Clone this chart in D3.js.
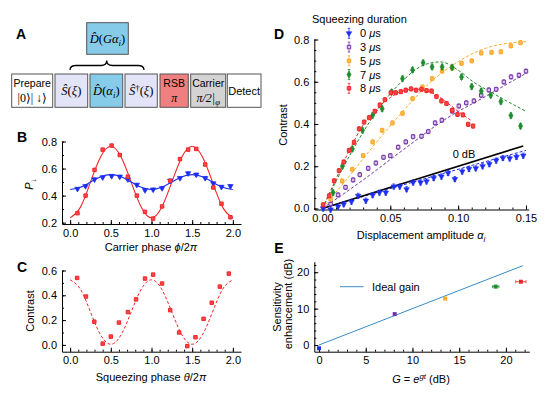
<!DOCTYPE html>
<html>
<head>
<meta charset="utf-8">
<script src="https://cdn.jsdelivr.net/npm/d3@7"></script>
<style>
  body { margin: 0; background: #fff; }
</style>
</head>
<body>
<script>
// ---- data ----
// B: carrier phase scan
var phiB = [0.09, 0.19, 0.30, 0.40, 0.51, 0.61, 0.71, 0.82, 0.92, 1.02, 1.13, 1.23, 1.35, 1.45, 1.55, 1.66, 1.76, 1.86, 1.97];
var redB = [0.27, 0.40, 0.59, 0.74, 0.77, 0.70, 0.54, 0.40, 0.28, 0.23, 0.32, 0.51, 0.67, 0.74, 0.745, 0.63, 0.46, 0.34, 0.24];
var blueB = [0.45, 0.47, 0.52, 0.535, 0.545, 0.54, 0.52, 0.48, 0.44, 0.445, 0.455, 0.51, 0.53, 0.565, 0.555, 0.53, 0.49, 0.465, 0.47];
var fitPhiB = [0, 0.125, 0.25, 0.375, 0.5, 0.625, 0.75, 0.875, 1, 1.125, 1.25, 1.375, 1.5, 1.625, 1.75, 1.875, 2];
var redFitB = [0.235, 0.313, 0.5, 0.687, 0.765, 0.687, 0.5, 0.313, 0.235, 0.313, 0.5, 0.687, 0.765, 0.687, 0.5, 0.313, 0.235];
var blueFitB = [0.445, 0.461, 0.5, 0.539, 0.555, 0.539, 0.5, 0.461, 0.445, 0.461, 0.5, 0.539, 0.555, 0.539, 0.5, 0.461, 0.445];

// C: squeezing phase scan
var thetaC = [0.086, 0.195, 0.297, 0.40, 0.50, 0.60, 0.71, 0.81, 0.92, 1.02, 1.13, 1.23, 1.34, 1.44, 1.54, 1.64, 1.74, 1.84, 1.95];
var contrastC = [0.54, 0.39, 0.187, 0.01, 0.067, 0.18, 0.265, 0.367, 0.535, 0.567, 0.495, 0.28, 0.10, -0.01, 0.062, 0.21, 0.34, 0.47, 0.575];
var fitThetaC = [0, 0.125, 0.25, 0.375, 0.5, 0.625, 0.75, 0.875, 1, 1.125, 1.25, 1.375, 1.5, 1.625, 1.75, 1.875, 2];
var fitC = [0.525, 0.45, 0.265, 0.08, 0.005, 0.08, 0.265, 0.45, 0.525, 0.45, 0.265, 0.08, 0.005, 0.08, 0.265, 0.45, 0.525];

// D: contrast vs displacement amplitude, [alpha, contrast]
var d0us = [[0.0005,0.0],[0.006,-0.005],[0.0115,0.009],[0.0157,0.02],[0.0214,0.032],[0.0263,0.06],[0.032,0.037],[0.037,0.063],[0.042,0.075],[0.0467,0.075],
  [0.0526,0.104],[0.057,0.104],[0.062,0.091],[0.0668,0.123],[0.0723,0.123],[0.0767,0.128],[0.082,0.144],[0.0877,0.151],[0.0926,0.168],[0.0976,0.139],
  [0.103,0.175],[0.108,0.187],[0.113,0.19],[0.118,0.2],[0.123,0.21],[0.128,0.227],[0.133,0.239],[0.138,0.237],[0.143,0.244],[0.148,0.25]];
var d3us = [[0.006,0.021],[0.0115,0.064],[0.017,0.10],[0.0226,0.135],[0.0275,0.16],[0.0337,0.19],[0.0394,0.215],[0.045,0.242],[0.050,0.25],[0.0558,0.29],
  [0.0614,0.315],[0.0668,0.34],[0.073,0.342],[0.078,0.364],[0.083,0.405],[0.088,0.418],[0.0956,0.461],[0.1005,0.485],[0.106,0.50],[0.1116,0.509],
  [0.117,0.536],[0.1226,0.561],[0.128,0.564],[0.1337,0.599],[0.139,0.623],[0.1448,0.631],[0.150,0.65]];
var d5us = [[0.006,0.045],[0.0145,0.13],[0.022,0.185],[0.03,0.25],[0.037,0.315],[0.044,0.37],[0.0516,0.405],[0.059,0.45],[0.0664,0.52],[0.0737,0.575],
  [0.0808,0.615],[0.0882,0.65],[0.0956,0.665],[0.1025,0.687],[0.11,0.699],[0.117,0.736],[0.1246,0.739],[0.1315,0.742],[0.1389,0.77],[0.146,0.785]];
var d7us = [[0.0078,0.075],[0.0147,0.2],[0.022,0.282],[0.0295,0.37],[0.0369,0.44],[0.044,0.472],[0.051,0.551],[0.059,0.615],[0.0664,0.656],[0.0742,0.69],
  [0.0808,0.67],[0.0882,0.67],[0.0956,0.668],[0.1025,0.623],[0.11,0.577],[0.117,0.556],[0.124,0.536],[0.1315,0.506],[0.1389,0.44],[0.146,0.39]];
var d8us = [[0.0005,0.017],[0.0049,0.06],[0.0086,0.131],[0.0122,0.179],[0.0157,0.22],[0.0196,0.275],[0.0233,0.313],[0.027,0.377],[0.0307,0.409],[0.0344,0.43],
  [0.0386,0.46],[0.0423,0.49],[0.046,0.515],[0.0504,0.548],[0.054,0.548],[0.0578,0.553],[0.0614,0.56],[0.0653,0.566],[0.069,0.56],[0.073,0.564],
  [0.0767,0.558],[0.0804,0.556],[0.084,0.53],[0.0877,0.509],[0.0914,0.497],[0.0956,0.465],[0.0995,0.445],[0.1035,0.443],[0.1074,0.398],[0.111,0.39]];
var fit0us = [[0,0],[0.075,0.14],[0.15,0.275]];
var fit3us = [[0,0],[0.03,0.135],[0.06,0.28],[0.09,0.42],[0.12,0.53],[0.15,0.64]];
var fit5us = [[0,0],[0.02,0.155],[0.04,0.315],[0.06,0.465],[0.08,0.6],[0.1,0.695],[0.12,0.758],[0.14,0.785],[0.15,0.79]];
var fit7us = [[0,0],[0.02,0.25],[0.04,0.46],[0.06,0.61],[0.075,0.68],[0.087,0.694],[0.1,0.655],[0.111,0.6],[0.125,0.548],[0.1357,0.509],[0.15,0.46]];
var fit8us = [[0,0],[0.01,0.14],[0.02,0.278],[0.03,0.395],[0.04,0.47],[0.05,0.525],[0.06,0.558],[0.068,0.565],[0.08,0.55],[0.09,0.51],[0.1,0.46],[0.11,0.415]];
var zeroDb = [[0,0],[0.148,0.296]];
var errD = [0.012, 0.01, 0.01, 0.012, 0.01];
var durations = ["0", "3", "5", "7", "8"];

// E: sensitivity enhancement vs gain
var gainE = [0, 8.1, 13.5, 18.9, 21.6];
var enhE = [-0.9, 8.5, 12.75, 16.05, 17.4];
var gainErrE = [0, 0, 0, 0.35, 0.55];
var idealE = [[0,0],[21.8,21.8]];

// ---- styles ----
var SANS = "'Liberation Sans', Arial, Helvetica, sans-serif";
var SERIF = "'Liberation Serif', 'DejaVu Serif', serif";
var col = {red:"#f2262a", blue:"#1c2ef0", purple:"#7434a8", orange:"#fba92c", green:"#1e8b2c"};

var svg = d3.select("body").append("svg")
  .attr("width", 549).attr("height", 396)
  .style("font-family", SANS);

function rich(t, parts) {
  var shift = 0;
  parts.forEach(function(p) {
    var s = t.append("tspan").text(p.t);
    var target = p.sub ? 3 : (p.sup ? -4 : 0);
    if (target !== shift) { s.attr("dy", target - shift); shift = target; }
    if (p.i) s.attr("font-style", "italic");
    if (p.serif) s.attr("font-family", SERIF);
    if (p.sub || p.sup) s.attr("font-size", "0.72em");
  });
  return t;
}

function label(x, y, parts, opts) {
  opts = opts || {};
  var t = svg.append("text").attr("x", x).attr("y", y)
    .attr("font-size", opts.size || 11)
    .attr("text-anchor", opts.anchor || "middle")
    .attr("fill", "#000");
  if (opts.rotate) t.attr("transform", "rotate(-90," + x + "," + y + ")");
  if (opts.bold) t.attr("font-weight", "bold");
  return rich(t, parts);
}

function frame(x, y, xt, xm, yt, ym, xf, yf) {
  var g = svg.append("g");
  var y0 = y.range()[0], x0 = x.range()[0];
  g.append("g").attr("transform", "translate(0," + y0 + ")")
    .call(d3.axisBottom(x).tickValues(xt).tickFormat(d3.format(xf)).tickSizeInner(-4).tickSizeOuter(0).tickPadding(5));
  g.append("g").attr("transform", "translate(0," + y0 + ")")
    .call(d3.axisBottom(x).tickValues(xm).tickFormat("").tickSizeInner(-2).tickSizeOuter(0))
    .select(".domain").remove();
  g.append("g").attr("transform", "translate(" + x0 + ",0)")
    .call(d3.axisLeft(y).tickValues(yt).tickFormat(d3.format(yf)).tickSizeInner(-4).tickSizeOuter(0).tickPadding(5));
  g.append("g").attr("transform", "translate(" + x0 + ",0)")
    .call(d3.axisLeft(y).tickValues(ym).tickFormat("").tickSizeInner(-2).tickSizeOuter(0))
    .select(".domain").remove();
  g.selectAll("text").attr("font-size", 11).attr("font-family", SANS).attr("fill", "#000");
  g.selectAll("path, line").attr("stroke", "#000").attr("stroke-width", 1);
  return g;
}

var symbols = {
  tri: d3.symbol().type(d3.symbolTriangle).size(13),
  sq: d3.symbol().type(d3.symbolSquare).size(12),
  dia: d3.symbol().type(d3.symbolDiamond).size(15)
};

function marker(g, px, py, m) {
  g.append("path")
    .attr("d", symbols[m.shape]())
    .attr("transform", "translate(" + px + "," + py + ")" + (m.shape === "tri" ? " rotate(180)" : ""))
    .attr("fill", m.fill).attr("stroke", m.stroke).attr("stroke-width", m.sw || 0.6);
}

function errbar(g, px, y1, y2, color) {
  g.append("path")
    .attr("d", "M" + px + "," + y1 + "V" + y2 + "M" + (px - 1.3) + "," + y1 + "H" + (px + 1.3) + "M" + (px - 1.3) + "," + y2 + "H" + (px + 1.3))
    .attr("stroke", color).attr("stroke-width", 0.8).attr("fill", "none");
}

function points(x, y, pts, err, m) {
  var g = svg.append("g");
  pts.forEach(function(d) {
    errbar(g, x(d[0]), y(d[1] - err), y(d[1] + err), m.stroke);
    marker(g, x(d[0]), y(d[1]), m);
  });
}

function curve(x, y, pts, color, dash, width, type) {
  svg.append("path")
    .datum(pts)
    .attr("d", d3.line().x(function(d){ return x(d[0]); }).y(function(d){ return y(d[1]); }).curve(type || d3.curveMonotoneX))
    .attr("fill", "none").attr("stroke", color)
    .attr("stroke-width", width || 1)
    .attr("stroke-dasharray", dash || null);
}

var mk = {
  blue: {shape:"tri", fill:col.blue, stroke:col.blue},
  purple: {shape:"sq", fill:"#d6c3ea", stroke:col.purple, sw:1},
  orange: {shape:"sq", fill:"#fdb94a", stroke:col.orange, sw:1},
  green: {shape:"dia", fill:col.green, stroke:col.green},
  red: {shape:"sq", fill:"#f84848", stroke:col.red, sw:1}
};

// ---- A: pulse sequence ----
label(21, 39, [{t:"A"}], {size:14, bold:true});
var rowY = 74, rowH = 33.3;
var boxes = [
  {x:11.7, w:41, fill:"#fff", lines:[[{t:"Prepare"}], [{t:"|0⟩| ↓⟩", serif:true}]]},
  {x:55, w:32.7, fill:"#e4e4f8", lines:[[{t:"Ŝ", serif:true, i:true}, {t:"(", serif:true}, {t:"ξ", serif:true, i:true}, {t:")", serif:true}]]},
  {x:90, w:32.7, fill:"#86cbe8", lines:[[{t:"D\u0302", serif:true, i:true}, {t:"(", serif:true}, {t:"α", serif:true, i:true}, {t:"i", serif:true, i:true, sub:true}, {t:")", serif:true}]]},
  {x:125, w:32.3, fill:"#e4e4f8", lines:[[{t:"Ŝ", serif:true, i:true}, {t:"†", serif:true, sup:true}, {t:"(", serif:true}, {t:"ξ", serif:true, i:true}, {t:")", serif:true}]]},
  {x:160, w:28.3, fill:"#f08080", lines:[[{t:"RSB"}], [{t:"π", serif:true, i:true}]]},
  {x:190.7, w:35, fill:"#d3d3d3", lines:[[{t:"Carrier"}], [{t:"π/2|", serif:true, i:true}, {t:"φ", serif:true, i:true, sub:true}]]},
  {x:227.3, w:33.7, fill:"#fff", lines:[[{t:"Detect"}]]}
];
boxes.forEach(function(b) {
  svg.append("rect").attr("x", b.x).attr("y", rowY).attr("width", b.w).attr("height", rowH)
    .attr("fill", b.fill).attr("stroke", "#555").attr("stroke-width", 1);
  var cx = b.x + b.w / 2;
  var serifLine = function(l) { return l[0].serif; };
  if (b.lines.length === 1) {
    label(cx, rowY + rowH / 2 + 4, b.lines[0], {size: serifLine(b.lines[0]) ? 12.5 : 11});
  } else {
    label(cx, rowY + 13, b.lines[0], {size:10.5});
    label(cx, rowY + 27.5, b.lines[1], {size:12});
  }
});
svg.append("rect").attr("x", 86.7).attr("y", 22.7).attr("width", 41.6).attr("height", 31.6)
  .attr("fill", "#86cbe8").attr("stroke", "#555").attr("stroke-width", 1);
label(107.5, 43, [{t:"D\u0302", serif:true, i:true}, {t:"(", serif:true}, {t:"Gα", serif:true, i:true}, {t:"i", serif:true, i:true, sub:true}, {t:")", serif:true}], {size:12.5});
svg.append("path")
  .attr("d", "M70,70 Q70,65.5 76,65.5 L101,65.5 Q106.7,65.5 106.7,60.5 Q106.7,65.5 112.4,65.5 L138,65.5 Q144,65.5 144,70")
  .attr("fill", "none").attr("stroke", "#000").attr("stroke-width", 1.3);

// ---- B ----
label(22, 142, [{t:"B"}], {size:14, bold:true});
var xB = d3.scaleLinear().domain([-0.1, 2.1]).range([62, 241]);
var yB = d3.scaleLinear().domain([0.19, 0.8]).range([224, 141.5]);
frame(xB, yB, [0, 0.5, 1, 1.5, 2], d3.range(0, 2.01, 0.1), [0.2, 0.4, 0.6, 0.8], d3.range(0.2, 0.81, 0.1), ".1f", ".1f");
curve(xB, yB, d3.zip(fitPhiB, redFitB), col.red, null, 1.1, d3.curveNatural);
curve(xB, yB, d3.zip(fitPhiB, blueFitB), col.blue, null, 1.1, d3.curveNatural);
points(xB, yB, d3.zip(phiB, blueB), 0.01, mk.blue);
points(xB, yB, d3.zip(phiB, redB), 0.008, mk.red);
label(151, 251, [{t:"Carrier phase "}, {t:"ϕ", i:true}, {t:"/2"}, {t:"π", i:true}]);
label(33, 184, [{t:"P", i:true}, {t:"↓", sub:true}], {rotate:true});

// ---- C ----
label(22, 272, [{t:"C"}], {size:14, bold:true});
var xC = d3.scaleLinear().domain([-0.1, 2.1]).range([62, 241]);
var yC = d3.scaleLinear().domain([-0.055, 0.6]).range([351.7, 270.5]);
frame(xC, yC, [0, 0.5, 1, 1.5, 2], d3.range(0, 2.01, 0.1), [0, 0.2, 0.4, 0.6], d3.range(0, 0.61, 0.1), ".1f", ".1f");
curve(xC, yC, d3.zip(fitThetaC, fitC), col.red, "3,2", 1, d3.curveNatural);
points(xC, yC, d3.zip(thetaC, contrastC), 0.008, mk.red);
label(151, 381, [{t:"Squeezing phase "}, {t:"θ", i:true}, {t:"/2"}, {t:"π", i:true}]);
label(34, 311, [{t:"Contrast"}], {rotate:true});

// ---- D ----
label(279, 39, [{t:"D"}], {size:14, bold:true});
var xD = d3.scaleLinear().domain([-0.006, 0.152]).range([314.3, 528.7]);
var yD = d3.scaleLinear().domain([-0.005, 0.8]).range([209.5, 39.5]);
frame(xD, yD, [0, 0.05, 0.1, 0.15], d3.range(0, 0.151, 0.01), [0, 0.2, 0.4, 0.6, 0.8], d3.range(0, 0.81, 0.05), ".2f", ".1f");
var seriesD = [
  {pts:d0us, fit:fit0us, m:mk.blue, c:col.blue},
  {pts:d3us, fit:fit3us, m:mk.purple, c:col.purple},
  {pts:d5us, fit:fit5us, m:mk.orange, c:col.orange},
  {pts:d7us, fit:fit7us, m:mk.green, c:col.green},
  {pts:d8us, fit:fit8us, m:mk.red, c:col.red}
];
seriesD.forEach(function(s) { curve(xD, yD, s.fit, s.c, "3,2", 1); });
curve(xD, yD, zeroDb, "#000", null, 1.6, d3.curveLinear);
seriesD.forEach(function(s, i) { points(xD, yD, s.pts, errD[i], s.m); });
label(464, 158, [{t:"0 dB"}]);
label(421, 239, [{t:"Displacement amplitude "}, {t:"α", i:true}, {t:"i", i:true, sub:true}]);
label(287, 125, [{t:"Contrast"}], {rotate:true});
// legend
label(312, 23, [{t:"Squeezing duration"}], {anchor:"start"});
var lg = svg.append("g");
seriesD.forEach(function(s, i) {
  var ly = 33.3 + i * 13.75;
  errbar(lg, 349, ly - 5, ly + 5, s.c);
  marker(lg, 349, ly, s.m);
  label(360, ly + 4, [{t:durations[i] + " "}, {t:"μ", i:true}, {t:"s"}], {anchor:"start"});
});

// ---- E ----
label(279, 253, [{t:"E"}], {size:14, bold:true});
var xE = d3.scaleLinear().domain([-0.5, 22.5]).range([314.3, 529.3]);
var yE = d3.scaleLinear().domain([-1.84, 22.9]).range([351.7, 261.7]);
frame(xE, yE, [0, 5, 10, 15, 20], d3.range(0, 22.1, 1), [0, 10, 20], d3.range(0, 22.1, 2), "d", "d");
curve(xE, yE, idealE, "#3a8cc6", null, 1, d3.curveLinear);
var colE = [col.blue, col.purple, col.orange, col.green, col.red];
var ge = svg.append("g");
gainE.forEach(function(g, i) {
  var px = xE(g), py = yE(enhE[i]);
  if (gainErrE[i] > 0) {
    ge.append("path")
      .attr("d", "M" + xE(g - gainErrE[i]) + "," + py + "H" + xE(g + gainErrE[i]) +
        "M" + xE(g - gainErrE[i]) + "," + (py - 1.5) + "V" + (py + 1.5) +
        "M" + xE(g + gainErrE[i]) + "," + (py - 1.5) + "V" + (py + 1.5))
      .attr("stroke", colE[i]).attr("stroke-width", 0.8);
  }
  ge.append("rect").attr("x", px - 2).attr("y", py - 2).attr("width", 4).attr("height", 4).attr("fill", colE[i]);
});
svg.append("line").attr("x1", 340).attr("x2", 363.5).attr("y1", 286.7).attr("y2", 286.7)
  .attr("stroke", "#3a8cc6").attr("stroke-width", 1);
label(372, 290.7, [{t:"Ideal gain"}], {anchor:"start"});
label(421, 383, [{t:"G", i:true}, {t:" = "}, {t:"e", i:true}, {t:"gt", i:true, sup:true}, {t:" (dB)"}]);
label(281, 307, [{t:"Sensitivity"}], {rotate:true});
label(292, 304, [{t:"enhancement (dB)"}], {rotate:true});
</script>
</body>
</html>
